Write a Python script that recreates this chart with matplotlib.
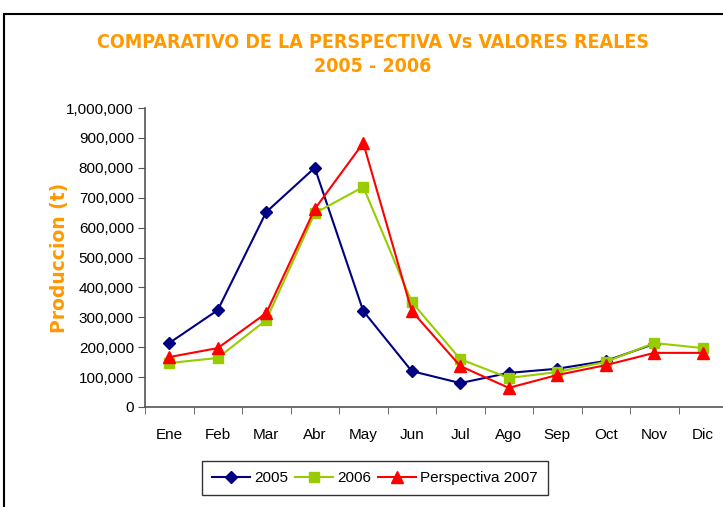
import numpy as np
import matplotlib
matplotlib.use("Agg")
import matplotlib.pyplot as plt
from matplotlib.patches import Rectangle
from matplotlib.ticker import FuncFormatter, FixedLocator

meses = ["Ene", "Feb", "Mar", "Abr", "May", "Jun", "Jul", "Ago", "Sep", "Oct", "Nov", "Dic"]
v2005 = [214000, 324000, 652000, 800000, 321000, 120000, 80000, 114000, 128000, 154000, 211000, np.nan]
v2006 = [147000, 164000, 291000, 648000, 736000, 351000, 160000, 97000, 117000, 151000, 214000, 197000]
v2007 = [167000, 197000, 314000, 662000, 883000, 321000, 137000, 64000, 107000, 140000, 181000, 181000]
y_ticks = [0, 100000, 200000, 300000, 400000, 500000, 600000, 700000, 800000, 900000, 1000000]

plt.rcParams['font.family'] = ['Liberation Sans', 'DejaVu Sans']
naranja = '#FF9900'

fig = plt.figure(figsize=(7.23, 5.07), dpi=100)
ax = fig.add_axes([145 / 723, 1 - 407 / 507, 582 / 723, 299 / 507])

x = np.arange(len(meses))
ax.plot(x, v2005, color='#000080', marker='D', markersize=6.5, linewidth=1.5, label='2005')
ax.plot(x, v2006, color='#99CC00', marker='s', markersize=7, linewidth=1.5, label='2006')
ax.plot(x, v2007, color='#FF0000', marker='^', markersize=8, linewidth=1.5, label='Perspectiva 2007')

ax.set_xlim(-0.5, 11.5)
ax.set_ylim(0, 1000000)
ax.set_yticks(y_ticks)
ax.yaxis.set_major_formatter(FuncFormatter(lambda v, p: f"{int(v):,}"))
ax.set_xticks(x)
ax.set_xticklabels(meses)
ax.xaxis.set_minor_locator(FixedLocator(np.arange(-0.5, 12, 1)))
ax.tick_params(axis='x', which='major', length=0, pad=15, labelsize=11)
ax.tick_params(axis='x', which='minor', length=5, color='#555555')
ax.tick_params(axis='y', length=5, color='#555555', labelsize=11, pad=3)

for s in ['top', 'right']:
    ax.spines[s].set_visible(False)
for s in ['left', 'bottom']:
    ax.spines[s].set_color('#555555')
    ax.spines[s].set_linewidth(1.2)

ax.set_ylabel('Produccion (t)', color=naranja, fontsize=13.5, fontweight='bold',
              family=['DejaVu Sans'])
ax.yaxis.set_label_coords(-0.13, 0.5)

fig.text(373 / 723, 1 - 42 / 507, 'COMPARATIVO DE LA PERSPECTIVA Vs VALORES REALES',
         ha='center', va='center', color=naranja, fontsize=14, fontweight='bold',
         family=['DejaVu Sans'], fontstretch='condensed')
fig.text(373 / 723, 1 - 67 / 507, '2005 - 2006', ha='center', va='center',
         color=naranja, fontsize=14, fontweight='bold', family=['DejaVu Sans'],
         fontstretch='condensed')

leg = fig.legend(loc='center', bbox_to_anchor=(375 / 723, 1 - 478 / 507), ncol=3,
                 fontsize=11, frameon=True, fancybox=False, handlelength=2.5,
                 columnspacing=0.4, handletextpad=0.3, borderpad=0.65)
leg.get_frame().set_edgecolor('black')
leg.get_frame().set_linewidth(1.0)

fig.patches.append(Rectangle((4 / 723, -0.1), 1.2, 1.1 - 14 / 507, transform=fig.transFigure,
                             fill=False, edgecolor='black', linewidth=1.5))

fig.savefig('out.png', dpi=100)
